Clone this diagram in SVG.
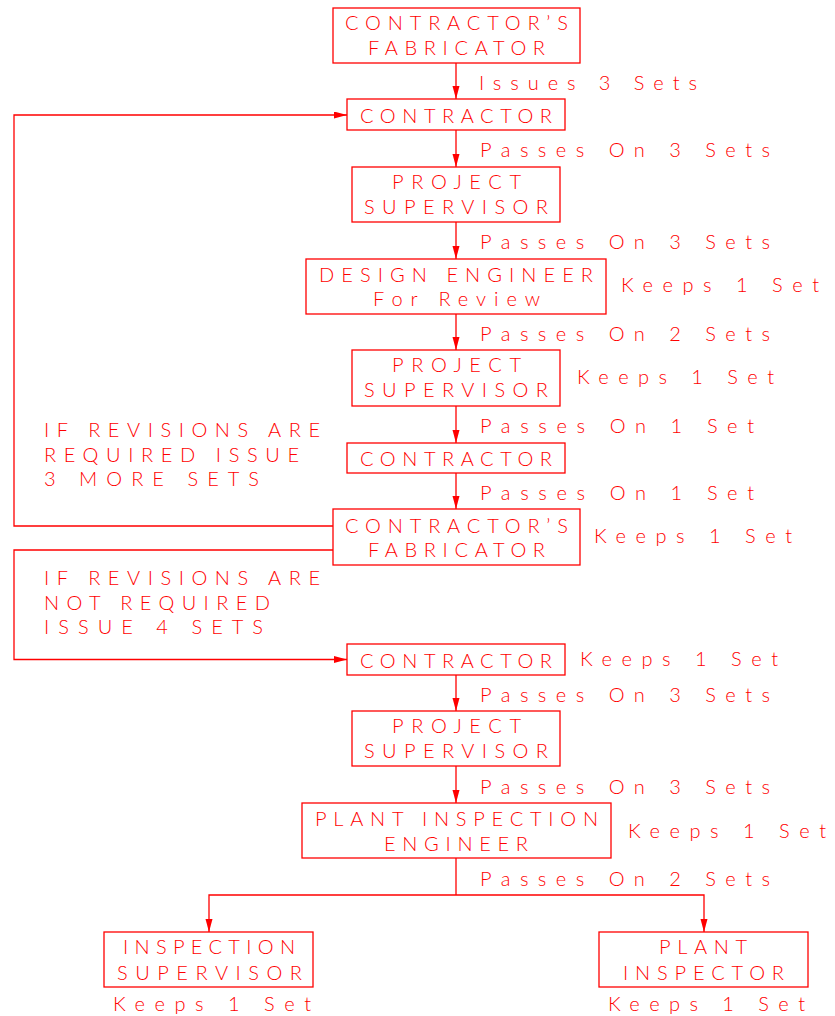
<svg xmlns="http://www.w3.org/2000/svg" width="835" height="1016" viewBox="0 0 835 1016">
<style>
  .bx { fill: none; stroke: #ff0000; stroke-width: 1.3; }
  .ln { fill: none; stroke: #ff0000; stroke-width: 1.3; }
  text { font-family: Lato, "Liberation Sans", sans-serif; font-weight: 300; font-size: 20px; fill: #ff0000; }
</style>
<defs>
  <marker id="ah" markerUnits="userSpaceOnUse" markerWidth="14" markerHeight="8" refX="13" refY="3.5" orient="auto">
    <path d="M0,0 L13,3.5 L0,7 Z" fill="#ff0000"/>
  </marker>
</defs>
<rect width="835" height="1016" fill="#ffffff"/>

<g id="connectors">
  <line class="ln" x1="456" y1="63" x2="456" y2="99" marker-end="url(#ah)"/>
  <line class="ln" x1="456" y1="130" x2="456" y2="167" marker-end="url(#ah)"/>
  <line class="ln" x1="456" y1="222" x2="456" y2="259" marker-end="url(#ah)"/>
  <line class="ln" x1="456" y1="314" x2="456" y2="350" marker-end="url(#ah)"/>
  <line class="ln" x1="456" y1="406" x2="456" y2="443" marker-end="url(#ah)"/>
  <line class="ln" x1="456" y1="473" x2="456" y2="509" marker-end="url(#ah)"/>
  <line class="ln" x1="456" y1="675" x2="456" y2="711" marker-end="url(#ah)"/>
  <line class="ln" x1="456" y1="766" x2="456" y2="803" marker-end="url(#ah)"/>
  <polyline class="ln" points="333,526 14,526 14,115 347,115" marker-end="url(#ah)"/>
  <polyline class="ln" points="333,550 14,550 14,659.5 347,659.5" marker-end="url(#ah)"/>
  <line class="ln" x1="456" y1="858" x2="456" y2="895"/>
  <polyline class="ln" points="456,895 209,895 209,932" marker-end="url(#ah)"/>
  <polyline class="ln" points="456,895 704,895 704,932" marker-end="url(#ah)"/>
  <text x="479" y="90" textLength="218" lengthAdjust="spacing">Issues 3 Sets</text>
  <text x="480" y="157" textLength="290" lengthAdjust="spacing">Passes On 3 Sets</text>
  <text x="480" y="249" textLength="290" lengthAdjust="spacing">Passes On 3 Sets</text>
  <text x="480" y="341" textLength="290" lengthAdjust="spacing">Passes On 2 Sets</text>
  <text x="480" y="433" textLength="274" lengthAdjust="spacing">Passes On 1 Set</text>
  <text x="480" y="500" textLength="274" lengthAdjust="spacing">Passes On 1 Set</text>
  <text x="480" y="702" textLength="290" lengthAdjust="spacing">Passes On 3 Sets</text>
  <text x="480" y="794" textLength="290" lengthAdjust="spacing">Passes On 3 Sets</text>
  <text x="480" y="886" textLength="290" lengthAdjust="spacing">Passes On 2 Sets</text>
  <text x="44" y="437" textLength="276" lengthAdjust="spacing">IF REVISIONS ARE</text>
  <text x="44" y="462" textLength="255" lengthAdjust="spacing">REQUIRED ISSUE</text>
  <text x="44" y="486" textLength="215" lengthAdjust="spacing">3 MORE SETS</text>
  <text x="44" y="585" textLength="276" lengthAdjust="spacing">IF REVISIONS ARE</text>
  <text x="44" y="610" textLength="226" lengthAdjust="spacing">NOT REQUIRED</text>
  <text x="44" y="634" textLength="219" lengthAdjust="spacing">ISSUE 4 SETS</text>
</g>

<g id="n1">
  <rect class="bx" x="333" y="8" width="247" height="55"/>
  <text x="345" y="30" textLength="223" lengthAdjust="spacing">CONTRACTOR’S</text>
  <text x="368" y="55" textLength="177" lengthAdjust="spacing">FABRICATOR</text>
</g>
<g id="n2">
  <rect class="bx" x="347" y="99" width="218" height="31"/>
  <text x="360" y="123" textLength="192" lengthAdjust="spacing">CONTRACTOR</text>
</g>
<g id="n3">
  <rect class="bx" x="352" y="167" width="208" height="55"/>
  <text x="392" y="189" textLength="129" lengthAdjust="spacing">PROJECT</text>
  <text x="364" y="214" textLength="184" lengthAdjust="spacing">SUPERVISOR</text>
</g>
<g id="n4">
  <rect class="bx" x="306" y="259" width="300" height="55"/>
  <text x="319" y="282" textLength="274" lengthAdjust="spacing">DESIGN ENGINEER</text>
  <text x="373" y="306" textLength="167" lengthAdjust="spacing">For Review</text>
  <text x="621" y="292" textLength="198" lengthAdjust="spacing">Keeps 1 Set</text>
</g>
<g id="n5">
  <rect class="bx" x="352" y="350" width="208" height="56"/>
  <text x="392" y="372" textLength="129" lengthAdjust="spacing">PROJECT</text>
  <text x="364" y="397" textLength="184" lengthAdjust="spacing">SUPERVISOR</text>
  <text x="577" y="384" textLength="197" lengthAdjust="spacing">Keeps 1 Set</text>
</g>
<g id="n6">
  <rect class="bx" x="347" y="443" width="218" height="30"/>
  <text x="360" y="466" textLength="192" lengthAdjust="spacing">CONTRACTOR</text>
</g>
<g id="n7">
  <rect class="bx" x="333" y="509" width="247" height="56"/>
  <text x="345" y="533" textLength="223" lengthAdjust="spacing">CONTRACTOR’S</text>
  <text x="368" y="557" textLength="177" lengthAdjust="spacing">FABRICATOR</text>
  <text x="594" y="543" textLength="198" lengthAdjust="spacing">Keeps 1 Set</text>
</g>
<g id="n8">
  <rect class="bx" x="347" y="644" width="218" height="31"/>
  <text x="360" y="668" textLength="192" lengthAdjust="spacing">CONTRACTOR</text>
  <text x="580" y="666" textLength="198" lengthAdjust="spacing">Keeps 1 Set</text>
</g>
<g id="n9">
  <rect class="bx" x="352" y="711" width="208" height="55"/>
  <text x="392" y="733" textLength="129" lengthAdjust="spacing">PROJECT</text>
  <text x="364" y="758" textLength="184" lengthAdjust="spacing">SUPERVISOR</text>
</g>
<g id="n10">
  <rect class="bx" x="302" y="803" width="309" height="55"/>
  <text x="315" y="826" textLength="283" lengthAdjust="spacing">PLANT INSPECTION</text>
  <text x="384" y="851" textLength="144" lengthAdjust="spacing">ENGINEER</text>
  <text x="628" y="838" textLength="198" lengthAdjust="spacing">Keeps 1 Set</text>
</g>
<g id="n11">
  <rect class="bx" x="104" y="932" width="209" height="55"/>
  <text x="123" y="954" textLength="172" lengthAdjust="spacing">INSPECTION</text>
  <text x="117" y="980" textLength="185" lengthAdjust="spacing">SUPERVISOR</text>
  <text x="113" y="1011" textLength="198" lengthAdjust="spacing">Keeps 1 Set</text>
</g>
<g id="n12">
  <rect class="bx" x="599" y="932" width="209" height="55"/>
  <text x="659" y="954" textLength="88" lengthAdjust="spacing">PLANT</text>
  <text x="623" y="980" textLength="161" lengthAdjust="spacing">INSPECTOR</text>
  <text x="608" y="1011" textLength="197" lengthAdjust="spacing">Keeps 1 Set</text>
</g>
</svg>
